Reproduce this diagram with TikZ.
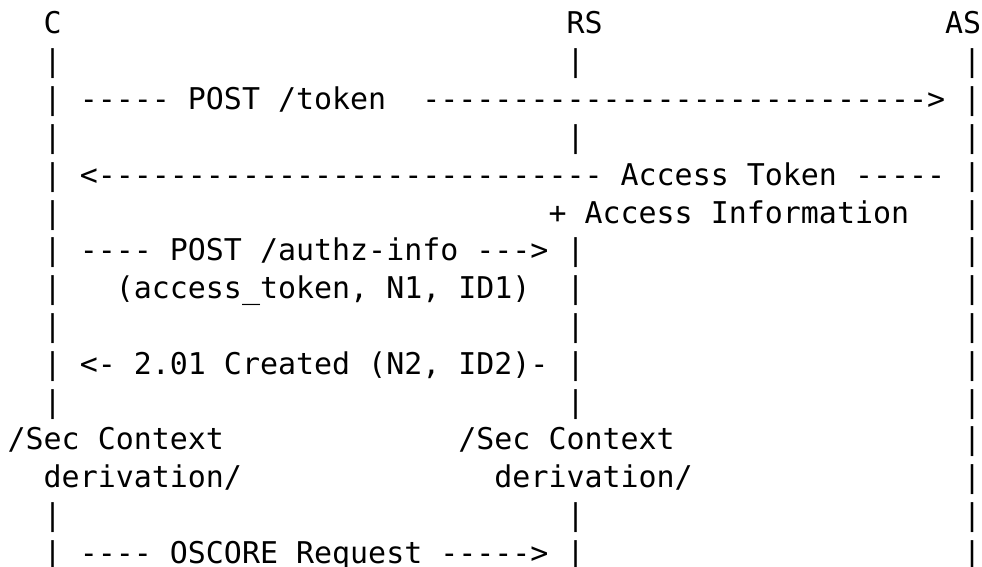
\documentclass[tikz,border=0pt]{standalone}
\usepackage{fontspec}
\setmonofont{DejaVu Sans Mono}
\tikzset{
  txt/.style={anchor=base west, inner sep=0pt, outer sep=0pt,
    font=\ttfamily\fontsize{29.95pt}{37.8pt}\selectfont, text=black}
}
\newcommand\cell[4]{\node[txt] (#1) at ({-10.4+#2*18.03},{-34-#3*37.8}) {#4};}
\begin{document}
\begin{tikzpicture}[x=1pt,y=1pt]
\fill[white] (0,0) rectangle (982,-567);
\useasboundingbox (0,0) rectangle (982,-567);
% header
\cell{C}{3}{0}{C}
\cell{RS}{32}{0}{RS}
\cell{AS}{53}{0}{AS}
% life lines
\foreach \r in {1,...,10,13,14} {\cell{c\r}{3}{\r}{|}}
\foreach \r in {1,3,6,7,8,9,10,13,14} {\cell{r\r}{32}{\r}{|}}
\foreach \r in {1,...,14} {\cell{a\r}{54}{\r}{|}}
% messages
\cell{m2a}{5}{2}{----- POST /token}
\cell{m2b}{24}{2}{---------------------------->}
\cell{m4a}{5}{4}{<----------------------------}
\cell{m4b}{35}{4}{Access Token -----}
\cell{m5}{31}{5}{+ Access Information}
\cell{m6}{5}{6}{---- POST /authz-info --->}
\cell{m7}{7}{7}{(access\_token, N1, ID1)}
\cell{m9}{5}{9}{<- 2.01 Created (N2, ID2)-}
\cell{s11a}{1}{11}{/Sec Context}
\cell{s11b}{26}{11}{/Sec Context}
\cell{s12a}{3}{12}{derivation/}
\cell{s12b}{28}{12}{derivation/}
\cell{m14}{5}{14}{---- OSCORE Request ----->}
\end{tikzpicture}
\end{document}
